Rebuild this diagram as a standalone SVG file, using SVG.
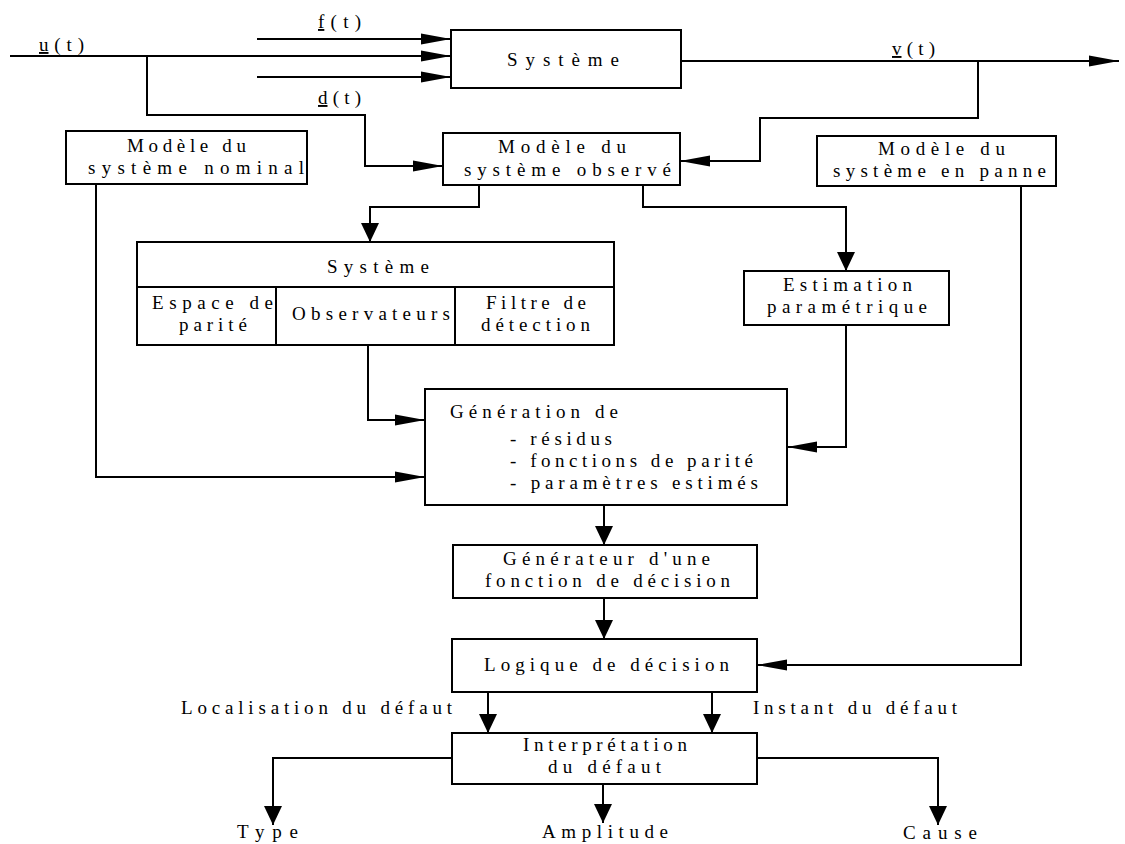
<svg xmlns="http://www.w3.org/2000/svg" width="1125" height="844" viewBox="0 0 1125 844">
<style>
.box{fill:#fff;stroke:#000;stroke-width:2}
.ln{fill:none;stroke:#000;stroke-width:2}
.ah{fill:none;stroke:#000;stroke-width:2;marker-end:url(#ah)}
.av{fill:none;stroke:#000;stroke-width:2;marker-end:url(#av)}
text{font-family:'Liberation Serif','Times New Roman',serif;font-size:19px;fill:#000}
.u{text-decoration:underline}
</style>
<defs>
<marker id="ah" markerUnits="userSpaceOnUse" markerWidth="31" markerHeight="12" refX="30" refY="6" orient="auto"><path d="M0,0.5 L30,6 L0,11.5 z" fill="#000"/></marker>
<marker id="av" markerUnits="userSpaceOnUse" markerWidth="20" markerHeight="18" refX="19" refY="9" orient="auto"><path d="M0,0 L19,9 L0,18 z" fill="#000"/></marker>
</defs>
<rect width="1125" height="844" fill="#fff"/>
<g id="connectors">
<path class="ah" d="M10,56 H451"/>
<path class="ah" d="M257,39 H451"/>
<path class="ah" d="M257,77 H451"/>
<path class="ah" d="M147,56 V115 H365 V166 H443"/>
<path class="ah" d="M681,61 H1119"/>
<path class="ah" d="M978,61 V118 H760 V161 H680"/>
<path class="ah" d="M96,184 V477 H425"/>
<path class="av" d="M479,185 V207 H370 V242"/>
<path class="av" d="M643,185 V207 H846 V271"/>
<path class="ah" d="M368,345 V420 H425"/>
<path class="ah" d="M846,325 V447 H787"/>
<path class="av" d="M604,505 V545"/>
<path class="av" d="M604,598 V639"/>
<path class="ah" d="M1021,186 V665 H757"/>
<path class="av" d="M488,692 V733"/>
<path class="av" d="M712,692 V733"/>
<path class="av" d="M452,758 H273 V825"/>
<path class="av" d="M603,784 V823"/>
<path class="av" d="M757,758 H938 V825"/>
</g>
<g id="signals">
<text x="39" y="51" textLength="45"><tspan class="u">u</tspan>(t)</text>
<text x="318" y="28" textLength="43"><tspan class="u">f</tspan>(t)</text>
<text x="318" y="104" textLength="43"><tspan class="u">d</tspan>(t)</text>
<text x="892" y="55" textLength="43"><tspan class="u">v</tspan>(t)</text>
</g>
<g id="systeme">
<rect class="box" x="451" y="30" width="230" height="58"/>
<text x="507" y="66" textLength="112">Système</text>
</g>
<g id="modele-nominal">
<rect class="box" x="66" y="131" width="241" height="53"/>
<text x="127" y="152" textLength="119">Modèle du</text>
<text x="88" y="174" textLength="216">système nominal</text>
</g>
<g id="modele-observe">
<rect class="box" x="443" y="133" width="237" height="52"/>
<text x="498" y="153" textLength="128">Modèle du</text>
<text x="464" y="176" textLength="207">système observé</text>
</g>
<g id="modele-panne">
<rect class="box" x="817" y="136" width="239" height="50"/>
<text x="878" y="155" textLength="127">Modèle du</text>
<text x="833" y="177" textLength="213">système en panne</text>
</g>
<g id="systeme-methodes">
<rect class="box" x="137" y="242" width="477" height="103"/>
<path class="ln" d="M137,287 H614 M276,287 V345 M455,287 V345"/>
<text x="327" y="273" textLength="102">Système</text>
<text x="152" y="309" textLength="121">Espace de</text>
<text x="179" y="331" textLength="68">parité</text>
<text x="292" y="320" textLength="158">Observateurs</text>
<text x="486" y="309" textLength="100">Filtre de</text>
<text x="481" y="331" textLength="109">détection</text>
</g>
<g id="estimation">
<rect class="box" x="744" y="271" width="205" height="54"/>
<text x="783" y="291" textLength="129">Estimation</text>
<text x="767" y="313" textLength="160">paramétrique</text>
</g>
<g id="generation">
<rect class="box" x="425" y="389" width="362" height="116"/>
<text x="450" y="418" textLength="168">Génération de</text>
<text x="510" y="445" textLength="102">- résidus</text>
<text x="510" y="467" textLength="243">- fonctions de parité</text>
<text x="510" y="489" textLength="248">- paramètres estimés</text>
</g>
<g id="generateur">
<rect class="box" x="453" y="545" width="304" height="53"/>
<text x="503" y="565" textLength="207">Générateur d'une</text>
<text x="485" y="587" textLength="245">fonction de décision</text>
</g>
<g id="logique">
<rect class="box" x="452" y="639" width="305" height="53"/>
<text x="484" y="671" textLength="245">Logique de décision</text>
</g>
<g id="interpretation">
<rect class="box" x="452" y="733" width="305" height="51"/>
<text x="523" y="751" textLength="164">Interprétation</text>
<text x="548" y="773" textLength="113">du défaut</text>
</g>
<g id="labels">
<text x="181" y="714" textLength="271">Localisation du défaut</text>
<text x="753" y="714" textLength="204">Instant du défaut</text>
<text x="237" y="838" textLength="61">Type</text>
<text x="542" y="838" textLength="126">Amplitude</text>
<text x="903" y="839" textLength="74">Cause</text>
</g>
</svg>
